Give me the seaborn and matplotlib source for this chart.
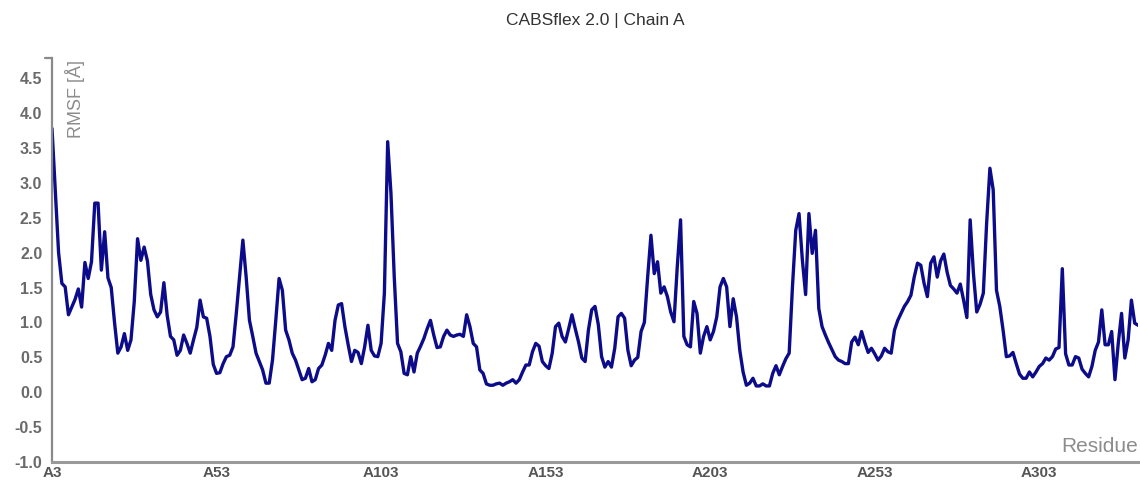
import numpy as np
import pandas as pd
import matplotlib
matplotlib.use("Agg")
import matplotlib.pyplot as plt
import seaborn as sns

# Per-residue RMSF of chain A (residues 3..333)
first_residue = 3
rmsf = [
    3.78, 2.90, 2.00, 1.56, 1.51, 1.11, 1.22, 1.33, 1.48, 1.22,
    1.86, 1.63, 1.87, 2.71, 2.71, 1.75, 2.30, 1.64, 1.50, 1.00,
    0.56, 0.65, 0.84, 0.60, 0.75, 1.30, 2.20, 1.89, 2.08, 1.88,
    1.40, 1.18, 1.08, 1.15, 1.57, 1.10, 0.80, 0.75, 0.53, 0.60,
    0.82, 0.70, 0.56, 0.75, 0.93, 1.32, 1.08, 1.06, 0.80, 0.40,
    0.27, 0.28, 0.41, 0.51, 0.53, 0.65, 1.13, 1.65, 2.18, 1.65,
    1.03, 0.80, 0.56, 0.44, 0.32, 0.13, 0.13, 0.46, 1.03, 1.63,
    1.46, 0.89, 0.75, 0.56, 0.46, 0.32, 0.18, 0.20, 0.34, 0.15,
    0.18, 0.34, 0.39, 0.53, 0.70, 0.60, 1.03, 1.25, 1.27, 0.94,
    0.68, 0.44, 0.60, 0.57, 0.41, 0.65, 0.96, 0.60, 0.52, 0.51,
    0.70, 1.42, 3.59, 2.85, 1.65, 0.70, 0.58, 0.27, 0.25, 0.51,
    0.29, 0.56, 0.66, 0.77, 0.91, 1.03, 0.82, 0.64, 0.65, 0.80,
    0.89, 0.82, 0.80, 0.82, 0.83, 0.80, 1.11, 0.94, 0.70, 0.65,
    0.32, 0.27, 0.12, 0.10, 0.10, 0.12, 0.13, 0.10, 0.13, 0.15,
    0.18, 0.13, 0.18, 0.29, 0.39, 0.39, 0.58, 0.70, 0.66, 0.44,
    0.38, 0.34, 0.56, 0.94, 0.99, 0.80, 0.72, 0.91, 1.11, 0.91,
    0.72, 0.49, 0.44, 0.89, 1.18, 1.23, 0.97, 0.51, 0.36, 0.44,
    0.36, 0.63, 1.08, 1.13, 1.06, 0.60, 0.38, 0.46, 0.50, 0.87,
    1.00, 1.65, 2.25, 1.70, 1.87, 1.42, 1.51, 1.37, 1.15, 1.01,
    1.80, 2.47, 0.80, 0.68, 0.65, 1.30, 1.13, 0.56, 0.80, 0.94,
    0.75, 0.87, 1.08, 1.51, 1.63, 1.51, 0.94, 1.34, 1.08, 0.60,
    0.29, 0.10, 0.13, 0.20, 0.09, 0.09, 0.12, 0.09, 0.09, 0.27,
    0.38, 0.25, 0.37, 0.48, 0.56, 1.51, 2.32, 2.56, 1.90, 1.40,
    2.56, 1.99, 2.32, 1.20, 0.94, 0.82, 0.71, 0.61, 0.51, 0.46,
    0.44, 0.41, 0.41, 0.72, 0.79, 0.68, 0.87, 0.71, 0.57, 0.63,
    0.55, 0.46, 0.52, 0.63, 0.58, 0.56, 0.89, 1.03, 1.13, 1.23,
    1.30, 1.39, 1.65, 1.85, 1.82, 1.56, 1.37, 1.85, 1.94, 1.65,
    1.88, 1.98, 1.72, 1.53, 1.48, 1.42, 1.55, 1.32, 1.07, 2.47,
    1.70, 1.15, 1.26, 1.42, 2.42, 3.21, 2.90, 1.46, 1.23, 0.89,
    0.51, 0.52, 0.57, 0.41, 0.26, 0.20, 0.20, 0.29, 0.22, 0.29,
    0.37, 0.41, 0.49, 0.46, 0.51, 0.62, 0.64, 1.77, 0.55, 0.39,
    0.39, 0.51, 0.49, 0.33, 0.27, 0.22, 0.37, 0.60, 0.72, 1.18,
    0.68, 0.68, 0.87, 0.18, 0.70, 1.13, 0.49, 0.75, 1.32, 0.99,
    0.96,
]
residues = list(range(first_residue, first_residue + len(rmsf)))

tick_residues = [3, 53, 103, 153, 203, 253, 303]
tick_labels = ["A3", "A53", "A103", "A153", "A203", "A253", "A303"]
y_ticks = [-1.0, -0.5, 0.0, 0.5, 1.0, 1.5, 2.0, 2.5, 3.0, 3.5, 4.0, 4.5]

df = pd.DataFrame({"residue": residues, "rmsf": rmsf})

sns.set_theme(style="white")
plt.rcParams["font.family"] = ["Liberation Sans", "DejaVu Sans"]

W, H = 1140, 483
fig = plt.figure(figsize=(W / 100, H / 100), dpi=100)
left_px, right_px, bottom_px, top_px = 52, 1138, 462, 58
ax = fig.add_axes([left_px / W, 1 - bottom_px / H,
                   (right_px - left_px) / W, (bottom_px - top_px) / H])

sns.lineplot(data=df, x="residue", y="rmsf", ax=ax, color="#0c0c8a",
             linewidth=2.4, solid_joinstyle="round")

ax.set_xlim(residues[0], residues[-1])
ymin, ymax = -1.0, 4.79
ax.set_ylim(ymin, ymax)

ax.set_xticks(tick_residues)
ax.set_xticklabels(tick_labels)
ax.set_yticks(y_ticks)
ax.set_yticklabels([f"{v:.1f}" for v in y_ticks])

ax.tick_params(axis="x", length=4, width=1.2, color="white", direction="in",
               pad=3, labelsize=11, labelcolor="#555555")
ax.tick_params(axis="y", length=0, pad=7, labelsize=11.5, labelcolor="#6a6a6a")
for lab in ax.get_xticklabels() + ax.get_yticklabels():
    lab.set_fontweight("bold")

for side in ("top", "right"):
    ax.spines[side].set_visible(False)
ax.spines["left"].set_color("#8a8a8a")
ax.spines["left"].set_linewidth(1.6)
ax.spines["bottom"].set_color("#9a9a9a")
ax.spines["bottom"].set_linewidth(2.2)
ax.spines["left"].set_zorder(3)
ax.spines["bottom"].set_zorder(3)

# small cap at the top of the value axis
ax.plot([-0.006, 0.0], [1.0, 1.0], transform=ax.transAxes, color="#8a8a8a",
        lw=1.6, clip_on=False)

ax.set_xlabel("")
ax.set_ylabel("")
ax.text(0.012, 0.995, "RMSF [Å]", transform=ax.transAxes, rotation=90,
        ha="left", va="top", fontsize=13, color="#8c8c8c")
ax.text(1.0, 0.015, "Residue", transform=ax.transAxes, ha="right",
        va="bottom", fontsize=15, color="#8c8c8c")

fig.text((left_px + right_px) / 2 / W, 1 - 20 / H, "CABSflex 2.0 | Chain A",
         ha="center", va="center", fontsize=12.5, color="#333333")

fig.savefig("out.png", dpi=100, facecolor="white")
